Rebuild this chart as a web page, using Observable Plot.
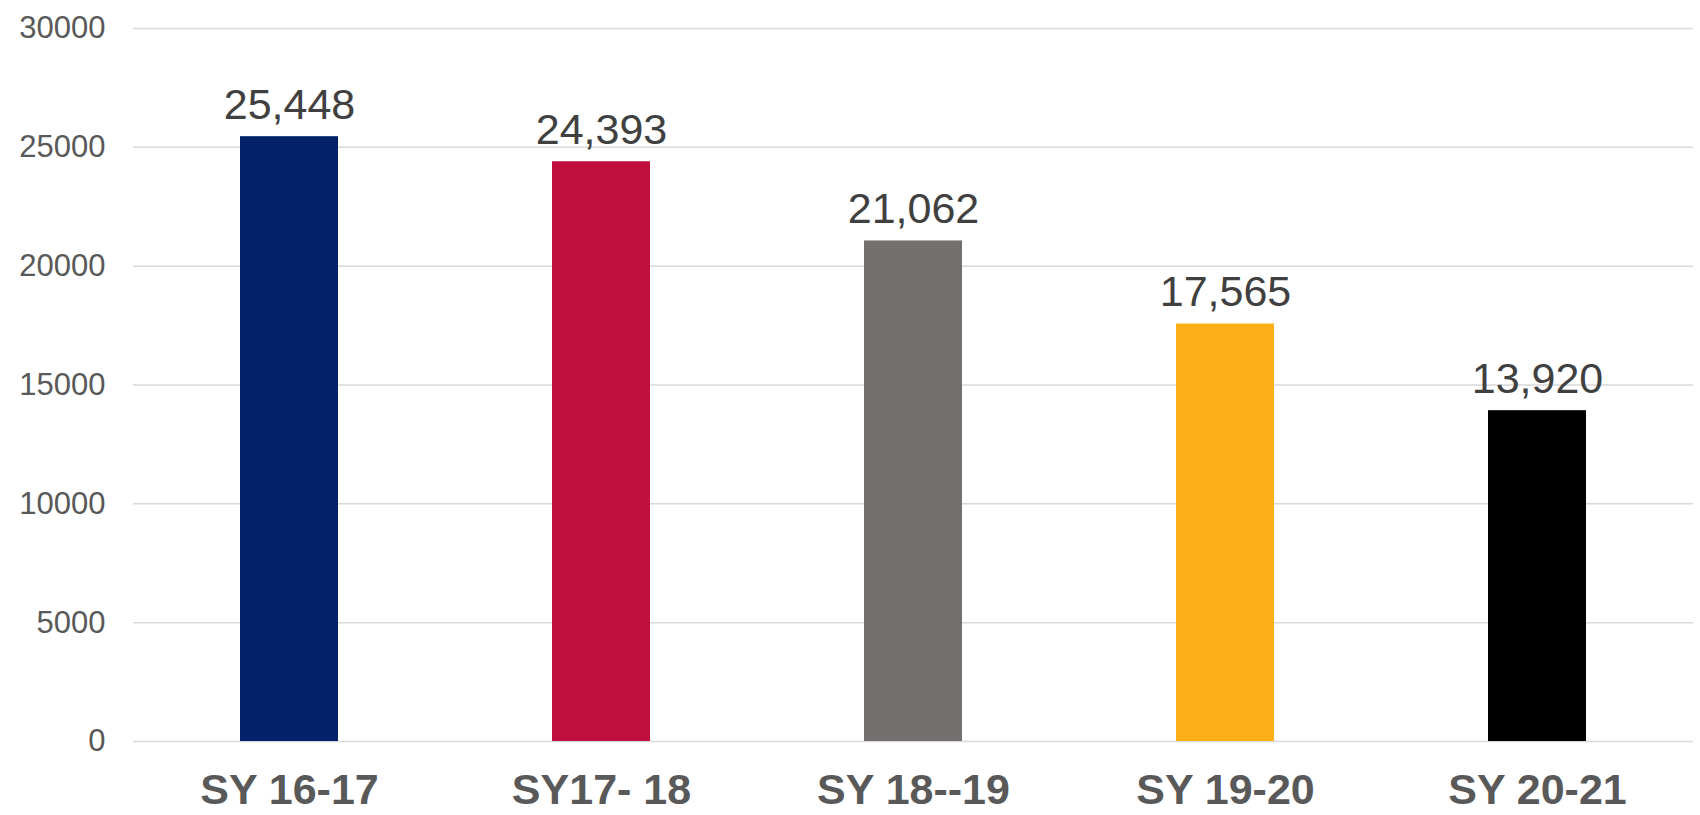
<!DOCTYPE html>
<html>
<head>
<meta charset="utf-8">
<script src="https://cdn.jsdelivr.net/npm/d3@7"></script>
<script src="https://cdn.jsdelivr.net/npm/@observablehq/plot@0.6"></script>
<style>
  html, body { margin: 0; padding: 0; background: #fff; }
  #chart svg { display: block; }
</style>
</head>
<body>
<div id="chart"></div>
<script>
const categories = ["SY 16-17", "SY17- 18", "SY 18--19", "SY 19-20", "SY 20-21"];
const values = [25448, 24393, 21062, 17565, 13920];
const colors = ["#022169", "#C00F3C", "#747070", "#FCAF17", "#000000"];
const yTicks = [0, 5000, 10000, 15000, 20000, 25000, 30000];

const data = categories.map((c, i) => ({ category: c, value: values[i], color: colors[i] }));

const chart = Plot.plot({
  width: 1700,
  height: 815,
  marginLeft: 133,
  marginRight: 7,
  marginTop: 28,
  marginBottom: 74,
  style: { fontFamily: "'Liberation Sans', Arial, sans-serif", background: "#fff" },
  x: { domain: categories, paddingInner: 0.686, paddingOuter: 0.343, label: null },
  y: { domain: [0, 30000], label: null },
  marks: [
    Plot.ruleY(yTicks, { stroke: "#d9d9d9", strokeWidth: 1.5 }),
    Plot.barY(data, { x: "category", y: "value", fill: "color" }),
    Plot.text(data, {
      x: "category", y: "value",
      text: d => d3.format(",")(d.value),
      lineAnchor: "bottom", dy: -18,
      fontSize: 43, fill: "#404040"
    }),
    Plot.axisY({
      ticks: yTicks, tickSize: 0, tickPadding: 28,
      tickFormat: d => String(d),
      fontSize: 31, fill: "#595959", label: null
    }),
    Plot.axisX({
      tickSize: 0, tickPadding: 32,
      fontSize: 43, fontWeight: "bold", fill: "#595959", label: null
    })
  ]
});
document.getElementById("chart").appendChild(chart);
</script>
</body>
</html>
